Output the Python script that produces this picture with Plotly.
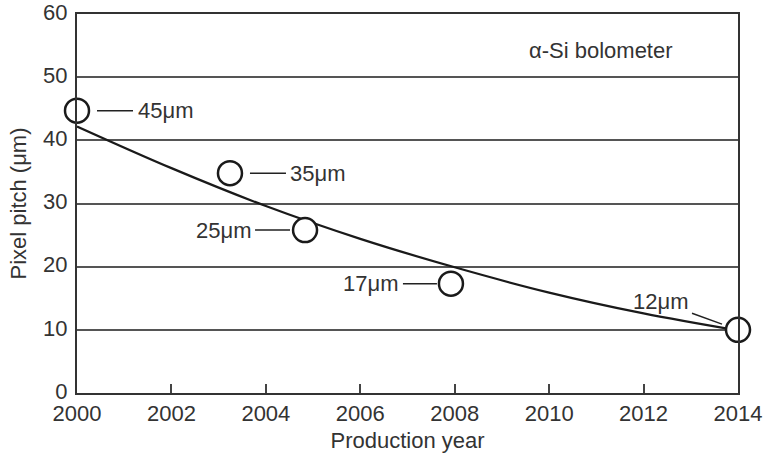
import plotly.graph_objects as go

# Data
years = [2000, 2003.24, 2004.83, 2007.92, 2014]
pitch = [44.7, 34.8, 25.8, 17.3, 10.0]
labels = ["45\u03bcm", "35\u03bcm", "25\u03bcm", "17\u03bcm", "12\u03bcm"]

trend_years = [2000, 2002, 2004, 2006, 2008, 2010, 2012, 2014]
trend_pitch = [42.2, 35.6, 29.6, 24.4, 19.9, 15.9, 12.6, 9.9]

x_ticks = [2000, 2002, 2004, 2006, 2008, 2010, 2012, 2014]
y_ticks = [0, 10, 20, 30, 40, 50, 60]

FONT = "Liberation Sans, Arial, sans-serif"
TXT = "#333333"
FS = 22

fig = go.Figure()
fig.add_trace(go.Scatter(
    x=trend_years, y=trend_pitch, mode="lines",
    line=dict(color="#1a1a1a", width=2.2, shape="spline", smoothing=1.0),
    hoverinfo="skip", cliponaxis=False, showlegend=False))
fig.add_trace(go.Scatter(
    x=years, y=pitch, mode="markers",
    marker=dict(size=24, color="white", line=dict(color="#1a1a1a", width=2.5)),
    cliponaxis=False, showlegend=False))

# label offsets (pixels) and leader standoffs
offsets = [(88, 0, 20), (88, 0, 20), (-82, 0, 15), (-80, 0, 14), (-78, -28, 17)]
for xv, yv, lab, (ax, ay, so) in zip(years, pitch, labels, offsets):
    fig.add_annotation(x=xv, y=yv, text=lab, showarrow=True, arrowhead=0,
                       arrowwidth=1.5, arrowcolor="#222222", ax=ax, ay=ay,
                       standoff=so, borderpad=4,
                       font=dict(family=FONT, size=FS, color=TXT))

fig.add_annotation(x=(527 - 77) / (738 - 77), y=1 - (50 - 14) / (393 - 14),
                   xref="x domain", yref="y domain", xanchor="left", yanchor="middle",
                   text="\u03b1-Si bolometer", showarrow=False,
                   font=dict(family=FONT, size=FS, color=TXT))

fig.update_layout(
    width=767, height=453,
    margin=dict(l=77, r=29, t=14, b=60),
    paper_bgcolor="white", plot_bgcolor="white",
    font=dict(family=FONT, size=FS, color=TXT),
    showlegend=False,
)
fig.update_xaxes(
    range=[2000, 2014], tickvals=x_ticks, ticktext=[str(v) for v in x_ticks],
    ticks="inside", ticklen=9, tickwidth=1.5, tickcolor="#444444",
    showgrid=False, zeroline=False, automargin=False, ticklabeloverflow="allow",
    showline=True, linecolor="#333333", linewidth=2, mirror=True,
    title=dict(text="Production year", standoff=13, font=dict(size=FS)),
    tickfont=dict(size=FS),
)
fig.update_yaxes(
    range=[0, 60], tickvals=y_ticks,
    ticks="", showgrid=True, gridcolor="#555555", gridwidth=1.5,
    zeroline=False, automargin=False, ticklabelshift=-2, ticklabelstandoff=3,
    ticklabeloverflow="allow",
    showline=True, linecolor="#333333", linewidth=2, mirror=True,
    title=dict(text="Pixel pitch (\u03bcm)", standoff=10, font=dict(size=FS)),
    tickfont=dict(size=FS),
)

# remove the default page margin so the figure fills the window exactly
fig.write_html("out.html", config={"displayModeBar": False},
               post_script="document.body.style.margin='0';")
